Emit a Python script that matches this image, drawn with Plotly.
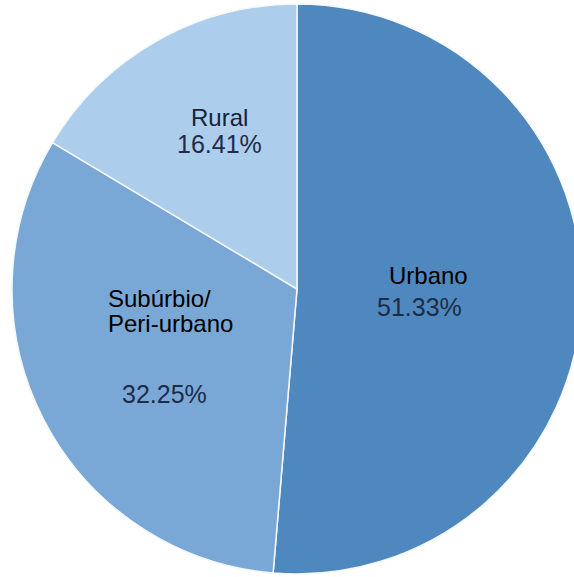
import plotly.graph_objects as go

# Distribuição por tipo de área
labels = ["Urbano", "Subúrbio/<br>Peri-urbano", "Rural"]
values = [51.33, 32.25, 16.41]
colors = ["#4f88be", "#7aa8d6", "#adcdec"]

W, H = 620, 577
cx, cy, r = 297, 289, 285

fig = go.Figure(
    go.Pie(
        labels=labels,
        values=values,
        sort=False,
        direction="clockwise",
        rotation=0,
        textinfo="none",
        hoverinfo="skip",
        marker=dict(colors=colors, line=dict(color="#f4f8fc", width=1.5)),
        domain=dict(x=[(cx - r) / W, (cx + r) / W],
                    y=[1 - (cy + r) / H, 1 - (cy - r) / H]),
        showlegend=False,
    )
)


def px(x, y):
    return x / W, 1 - y / H


label_font = dict(family="Liberation Sans, Arial, sans-serif", size=24, color="#000000")
pct_font = dict(family="Liberation Sans, Arial, sans-serif", size=25, color="#1e2c48")

# label positions: pixel x, first-line y, alignment; percentage centres
label_pos = [(428, 275, "center"), (106, 298, "left"), (219, 117, "center")]
pct_pos = [(420, 307), (164, 394), (219, 144)]
label_colors = ["#000000", "#000000", "#16223a"]
line_step = 25

annotations = []
for lab, val, (lx, ly, al), (qx, qy), lc in zip(labels, values, label_pos, pct_pos, label_colors):
    for i, line in enumerate(lab.split("<br>")):
        ax, ay = px(lx, ly + i * line_step)
        annotations.append(dict(x=ax, y=ay, xref="paper", yref="paper", text=line,
                                showarrow=False, xanchor=al, yanchor="middle",
                                align=al, font=dict(label_font, color=lc)))
    bx, by = px(qx, qy)
    annotations.append(dict(x=bx, y=by, xref="paper", yref="paper",
                            text=f"{val:.2f}%", showarrow=False,
                            xanchor="center", yanchor="middle",
                            font=pct_font))

fig.update_layout(
    width=W,
    height=H,
    margin=dict(l=0, r=0, t=0, b=0),
    paper_bgcolor="white",
    plot_bgcolor="white",
    annotations=annotations,
)

fig.write_html(
    "out.html",
    config={"displayModeBar": False, "staticPlot": True},
    post_script="document.body.style.margin='0';document.body.style.overflow='hidden';",
)
